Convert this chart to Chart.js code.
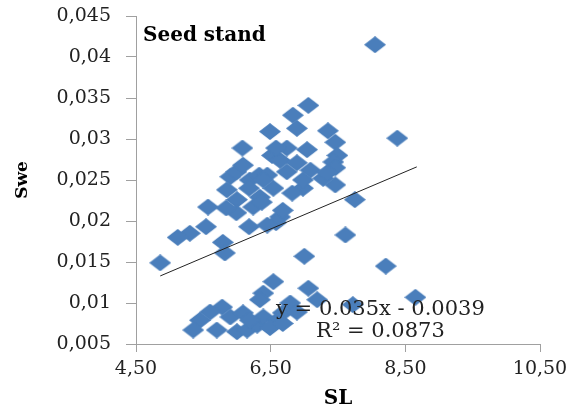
<!DOCTYPE html>
<html>
<head>
<meta charset="utf-8">
<script src="https://cdn.jsdelivr.net/npm/chart.js@4"></script>
<style>
  html, body { margin: 0; padding: 0; background: #fff; }
  #wrap { width: 585px; height: 411px; }
</style>
</head>
<body>
<div id="wrap"><canvas id="seedStandChart"></canvas></div>
<script>
// SL (x) and Swe (y) for the seed stand plot
const slValues = [
    8.05, 8.38, 7.06, 6.83, 6.89, 6.49, 7.35, 6.08, 7.46, 7.49,
    7.43, 7.46, 7.46, 7.28, 7.75, 7.61, 7.00, 4.86, 8.21, 6.52,
    6.74, 7.04, 6.64, 6.89, 6.74, 7.09, 6.98, 6.82, 6.58, 5.90,
    5.85, 5.99, 6.19, 6.33, 6.45, 6.54, 6.18, 6.34, 6.00, 5.99,
    5.84, 5.57, 6.24, 6.64, 6.68, 6.58, 6.18, 6.45, 5.54, 5.30,
    5.12, 5.79, 5.82, 6.37, 6.39, 7.34, 6.98, 6.09,
    6.54, 7.06, 6.39, 6.34, 6.79, 5.78, 5.60, 5.45, 5.35, 5.70,
    5.90, 6.09, 6.00, 6.15, 6.30, 6.39, 6.60, 6.68, 6.89, 6.49,
    6.19, 7.19, 7.72, 8.65, 6.68
];
const sweValues = [
    0.0415, 0.0301, 0.0341, 0.0329, 0.0313, 0.0309, 0.0310, 0.0289, 0.0296, 0.0280,
    0.0272, 0.0265, 0.0244, 0.0252, 0.0226, 0.0183, 0.0157, 0.0149, 0.0145, 0.0280,
    0.0289, 0.0287, 0.0274, 0.0271, 0.0260, 0.0262, 0.0240, 0.0234, 0.0289, 0.0254,
    0.0238, 0.0260, 0.0250, 0.0256, 0.0256, 0.0240, 0.0240, 0.0229, 0.0226, 0.0210,
    0.0216, 0.0217, 0.0217, 0.0205, 0.0213, 0.0198, 0.0193, 0.0195, 0.0193, 0.0185,
    0.0180, 0.0174, 0.0161, 0.0223, 0.0250, 0.0259, 0.0250, 0.0268,
    0.0126, 0.0118, 0.0112, 0.0104, 0.0100, 0.0095, 0.0089, 0.0079, 0.0067, 0.0067,
    0.0083, 0.0088, 0.0065, 0.0067, 0.0073, 0.0083, 0.0079, 0.0088, 0.0089, 0.0070,
    0.0079, 0.0104, 0.0098, 0.0107, 0.0075
];

// linear trendline, ends
const trendX = [4.86, 8.67];
const trendY = [0.0133, 0.0266];
const trendLabel = ['y = 0.035x - 0.0039', 'R\u00b2 = 0.0873'];

// axis ticks
const xTickValues = [4.5, 6.5, 8.5, 10.5];
const xTickLabels = ['4,50', '6,50', '8,50', '10,50'];
const yTickValues = [0.005, 0.01, 0.015, 0.02, 0.025, 0.03, 0.035, 0.04, 0.045];
const yTickLabels = ['0,005', '0,01', '0,015', '0,02', '0,025', '0,03', '0,035', '0,04', '0,045'];

const blue = '#4a7ebb';
const axisGrey = '#a0a0a0';
const serif = "'DejaVu Serif', serif";

// slightly wide diamond marker
const diamond = document.createElement('canvas');
diamond.width = 22;
diamond.height = 17;
const dctx = diamond.getContext('2d');
dctx.fillStyle = blue;
dctx.beginPath();
dctx.moveTo(11, 0);
dctx.lineTo(22, 8.5);
dctx.lineTo(11, 17);
dctx.lineTo(0, 8.5);
dctx.closePath();
dctx.fill();

const points = slValues.map((x, i) => ({ x: x, y: sweValues[i] }));
const trendPoints = trendX.map((x, i) => ({ x: x, y: trendY[i] }));

const textPlugin = {
    id: 'textPlugin',
    afterDatasetsDraw(chart) {
        const ctx = chart.ctx;
        const xs = chart.scales.x;
        const ys = chart.scales.y;
        ctx.save();
        ctx.fillStyle = '#000';
        ctx.font = 'bold 20px ' + serif;
        ctx.textAlign = 'left';
        ctx.textBaseline = 'alphabetic';
        ctx.fillText('Seed stand', chart.chartArea.left + 7, 41);

        ctx.font = '21px ' + serif;
        ctx.fillStyle = '#222';
        ctx.textAlign = 'center';
        const cx = xs.getPixelForValue(8.13);
        ctx.fillText(trendLabel[0], cx, ys.getPixelForValue(0.0085));
        ctx.fillText(trendLabel[1], cx, ys.getPixelForValue(0.0058));
        ctx.restore();
    }
};

const ctx = document.getElementById('seedStandChart');
new Chart(ctx, {
    type: 'scatter',
    data: {
        datasets: [{
            type: 'line',
            label: 'Trend',
            data: trendPoints,
            borderColor: '#222',
            borderWidth: 1,
            pointRadius: 0,
            fill: false,
            order: 0
        }, {
            label: 'Seed stand',
            data: points,
            pointStyle: diamond,
            pointRadius: 10,
            order: 1
        }]
    },
    options: {
        responsive: true,
        maintainAspectRatio: false,
        animation: false,
        layout: {
            padding: { top: 16, right: 45, bottom: 0, left: 0 }
        },
        plugins: {
            legend: { display: false },
            tooltip: { enabled: false }
        },
        scales: {
            x: {
                type: 'linear',
                min: 4.5,
                max: 10.5,
                afterBuildTicks: (scale) => {
                    scale.ticks = xTickValues.map(v => ({ value: v }));
                },
                afterFit: (scale) => {
                    scale.height = 67;
                    scale.paddingLeft = 0;
                    scale.paddingRight = 0;
                },
                grid: {
                    drawOnChartArea: false,
                    color: axisGrey,
                    tickLength: 8
                },
                border: { color: axisGrey },
                ticks: {
                    padding: 6,
                    color: '#222',
                    font: { family: serif, size: 19 },
                    callback: (v, i) => xTickLabels[i]
                },
                title: {
                    display: true,
                    text: 'SL',
                    color: '#000',
                    padding: { top: 0, bottom: 0 },
                    font: { family: serif, size: 20, weight: 'bold' }
                }
            },
            y: {
                type: 'linear',
                min: 0.005,
                max: 0.045,
                afterBuildTicks: (scale) => {
                    scale.ticks = yTickValues.map(v => ({ value: v }));
                },
                afterFit: (scale) => {
                    scale.width = 136;
                    scale.paddingTop = 0;
                    scale.paddingBottom = 0;
                },
                grid: {
                    drawOnChartArea: false,
                    color: axisGrey,
                    tickLength: 10
                },
                border: { color: axisGrey },
                ticks: {
                    padding: 15,
                    color: '#222',
                    font: { family: serif, size: 19 },
                    callback: (v, i) => yTickLabels[i]
                },
                title: {
                    display: true,
                    text: 'Swe',
                    color: '#000',
                    padding: { top: 12, bottom: 0 },
                    font: { family: serif, size: 17, weight: 'bold' }
                }
            }
        }
    },
    plugins: [textPlugin]
});
</script>
</body>
</html>
